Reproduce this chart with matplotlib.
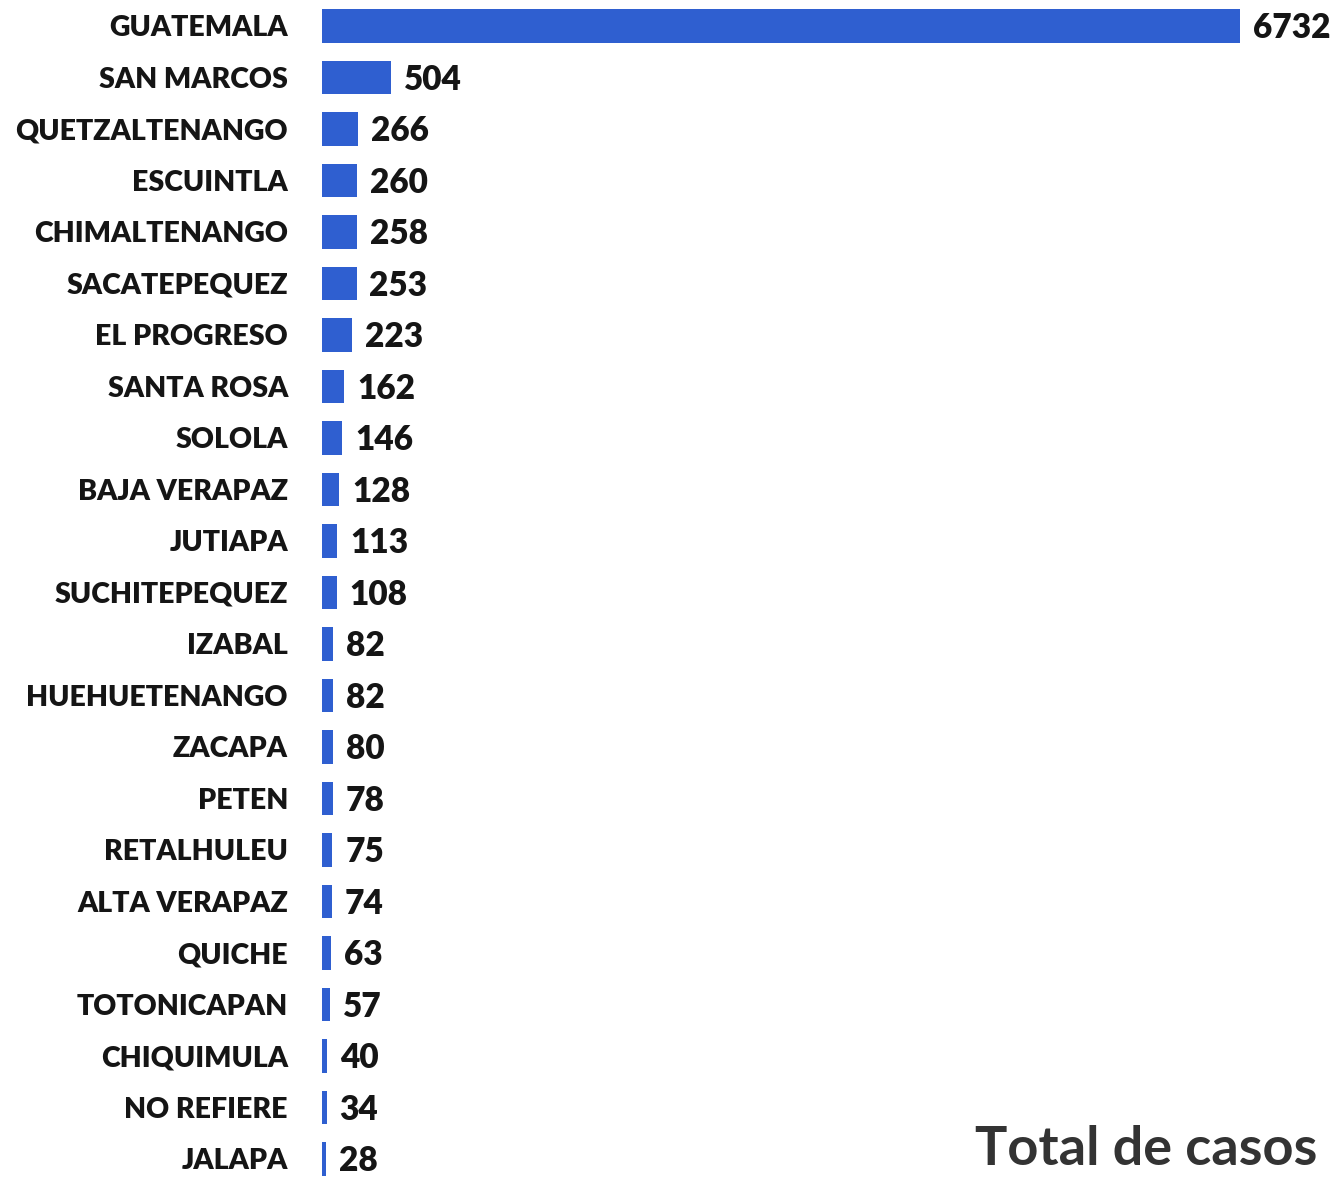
import matplotlib
matplotlib.use("Agg")
import matplotlib.pyplot as plt

departamentos = ["GUATEMALA", "SAN MARCOS", "QUETZALTENANGO", "ESCUINTLA",
                 "CHIMALTENANGO", "SACATEPEQUEZ", "EL PROGRESO", "SANTA ROSA",
                 "SOLOLA", "BAJA VERAPAZ", "JUTIAPA", "SUCHITEPEQUEZ", "IZABAL",
                 "HUEHUETENANGO", "ZACAPA", "PETEN", "RETALHULEU", "ALTA VERAPAZ",
                 "QUICHE", "TOTONICAPAN", "CHIQUIMULA", "NO REFIERE", "JALAPA"]
casos = [6732, 504, 266, 260, 258, 253, 223, 162, 146, 128, 113, 108, 82,
         82, 80, 78, 75, 74, 63, 57, 40, 34, 28]

W, H = 1338, 1181
fig = plt.figure(figsize=(W / 100, H / 100), dpi=100)
fig.patch.set_facecolor("white")

# axes start at the zero line of the bars
x0 = 322
ax = fig.add_axes([x0 / W, 0, (W - x0) / W, 1])
px_per_unit = (1240 - x0) / 6732
ax.set_xlim(0, (W - x0) / px_per_unit)

# row centres: 26 px for the first, then a fixed step
step = 51.5
ax.set_ylim((H - 26) / step, -26 / step)

pos = list(range(len(casos)))
ax.barh(pos, casos, height=0.66, color="#2f5fd0")

for i, v in enumerate(casos):
    ax.text(v + 13 / px_per_unit, i + 0.04, str(v), va="center", ha="left",
            fontsize=24, fontweight="heavy", family="Lato", color="#151515")
    ax.text(-34 / px_per_unit, i + 0.04, departamentos[i], va="center", ha="right",
            fontsize=20.5, fontweight="heavy", family="Lato", color="#151515",
            clip_on=False)

for s in ax.spines.values():
    s.set_visible(False)
ax.set_xticks([])
ax.set_yticks([])
ax.patch.set_alpha(0)

fig.text(975 / W, 1 - 1165 / H, "Total de casos", fontsize=39,
         fontweight="bold", family="Lato", color="#333333", va="baseline")

fig.savefig("out.png", dpi=100)
